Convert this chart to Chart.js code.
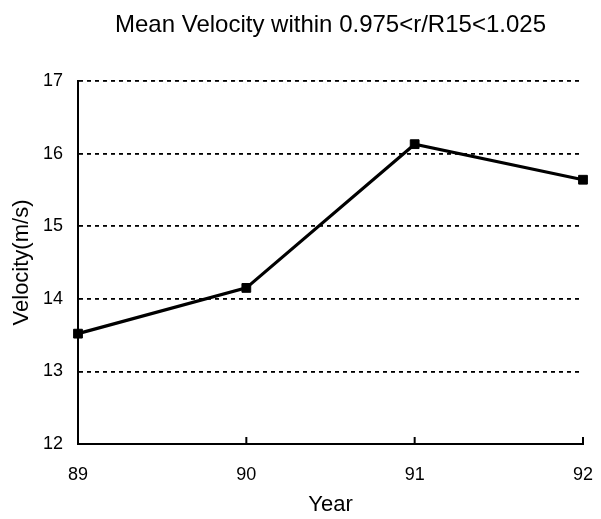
<!DOCTYPE html>
<html>
<head>
<meta charset="utf-8">
<script src="https://cdn.jsdelivr.net/npm/chart.js@4.4.0/dist/chart.umd.min.js"></script>
<style>
  html, body { margin: 0; padding: 0; background: #fff; }
  #wrap { width: 601px; height: 519px; }
</style>
</head>
<body>
<div id="wrap"><canvas id="velChart" width="601" height="519"></canvas></div>
<script>
const years = [89, 90, 91, 92];
const velocity = [13.52, 14.15, 16.13, 15.64];
const yTicks = [12, 13, 14, 15, 16, 17];
const chartTitle = "Mean Velocity within 0.975<r/R15<1.025";

const fontFamily = "'Liberation Sans', Arial, Helvetica, sans-serif";

// title centred over the plot area, and small upward ticks on the x axis
const extras = {
    id: "extras",
    afterDraw(chart) {
        const ctx = chart.ctx;
        const area = chart.chartArea;
        const xScale = chart.scales.x;
        ctx.save();
        ctx.fillStyle = "#000";
        ctx.font = "24px " + fontFamily;
        ctx.textAlign = "center";
        ctx.textBaseline = "middle";
        ctx.fillText(chartTitle, (area.left + area.right) / 2, 25);

        ctx.strokeStyle = "#000";
        ctx.lineWidth = 2;
        years.slice(1).forEach((yr) => {
            const px = xScale.getPixelForValue(yr);
            ctx.beginPath();
            ctx.moveTo(px, area.bottom);
            ctx.lineTo(px, area.bottom - 7);
            ctx.stroke();
        });
        ctx.restore();
    },
};

const ctx = document.getElementById("velChart").getContext("2d");
new Chart(ctx, {
    type: "line",
    data: {
        datasets: [
            {
                data: years.map((yr, i) => ({ x: yr, y: velocity[i] })),
                borderColor: "#000",
                borderWidth: 3.2,
                pointStyle: "rect",
                pointRadius: 6.2,
                pointBackgroundColor: "#000",
                pointBorderColor: "#000",
                pointBorderWidth: 1,
                tension: 0,
                fill: false,
                clip: false,
            },
        ],
    },
    options: {
        responsive: false,
        animation: false,
        layout: { padding: { left: 0, right: 18, top: 81, bottom: 0 } },
        plugins: {
            legend: { display: false },
            tooltip: { enabled: false },
            title: { display: false },
        },
        scales: {
            x: {
                type: "linear",
                min: 89,
                max: 92,
                afterFit(scale) {
                    scale.height = 75;
                    scale.paddingLeft = 0;
                    scale.paddingRight = 0;
                },
                afterBuildTicks(scale) { scale.ticks = years.map((v) => ({ value: v })); },
                grid: { display: false, drawTicks: false },
                border: { display: true, color: "#000", width: 2 },
                ticks: {
                    color: "#000",
                    padding: 20,
                    font: { family: fontFamily, size: 18 },
                },
                title: {
                    display: true,
                    text: "Year",
                    color: "#000",
                    font: { family: fontFamily, size: 22 },
                    padding: { top: 0, bottom: 1 },
                },
            },
            y: {
                min: 12,
                max: 17,
                afterFit(scale) {
                    scale.width = 78;
                    scale.paddingTop = 0;
                    scale.paddingBottom = 0;
                },
                afterBuildTicks(scale) { scale.ticks = yTicks.map((v) => ({ value: v })); },
                grid: { color: "#000", lineWidth: 1.8, drawTicks: false },
                border: { display: true, color: "#000", width: 2, dash: [4, 4] },
                ticks: {
                    color: "#000",
                    padding: 15,
                    font: { family: fontFamily, size: 18 },
                },
                title: {
                    display: true,
                    text: "Velocity(m/s)",
                    color: "#000",
                    font: { family: fontFamily, size: 22 },
                    padding: { top: 9, bottom: 0 },
                },
            },
        },
    },
    plugins: [extras],
});
</script>
</body>
</html>
